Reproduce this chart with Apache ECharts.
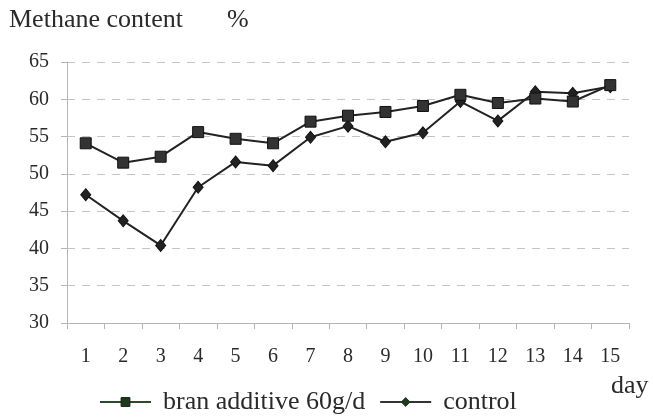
<!DOCTYPE html>
<html>
<head>
<meta charset="utf-8">
<script src="https://cdn.jsdelivr.net/npm/echarts@6/dist/echarts.min.js"></script>
<style>
  html, body { margin: 0; padding: 0; background: #fff; }
  #chart { width: 653px; height: 417px; }
</style>
</head>
<body>
<div id="chart"></div>
<script>
// days on the x axis
const days = ['1', '2', '3', '4', '5', '6', '7', '8', '9', '10', '11', '12', '13', '14', '15'];
// methane content, %
const bran = [54.1, 51.5, 52.3, 55.6, 54.7, 54.1, 57.0, 57.8, 58.3, 59.1, 60.6, 59.5, 60.1, 59.7, 61.9];
const control = [47.2, 43.7, 40.4, 48.2, 51.6, 51.1, 54.9, 56.4, 54.3, 55.5, 59.7, 57.1, 61.0, 60.8, 61.7];
const seriesNames = ['bran additive 60g/d', 'control'];

const serif = '"Liberation Serif", "Times New Roman", serif';
const chart = echarts.init(document.getElementById('chart'), null, { renderer: 'canvas' });

const option = {
  animation: false,
  backgroundColor: '#fff',
  title: [
    { text: 'Methane content', left: 9, top: 7, padding: 0,
      textStyle: { fontFamily: serif, fontSize: 26, fontWeight: 'normal', color: '#2a2a2a' } },
    { text: '%', left: 227, top: 7, padding: 0,
      textStyle: { fontFamily: serif, fontSize: 26, fontWeight: 'normal', color: '#2a2a2a' } },
    { text: 'day', left: 611, top: 373, padding: 0,
      textStyle: { fontFamily: serif, fontSize: 26, fontWeight: 'normal', color: '#2a2a2a' } }
  ],
  grid: { left: 67, right: 24, top: 62, bottom: 94, containLabel: false },
  legend: {
    left: 99, top: 389, padding: 0,
    itemWidth: 51, itemHeight: 11, itemGap: 14,
    textStyle: { fontFamily: serif, fontSize: 26, color: '#2a2a2a', padding: [0, 0, 0, 7] },
    data: [
      { name: seriesNames[0],
        itemStyle: { color: '#1d3a1d', borderColor: '#112211', borderWidth: 1 },
        lineStyle: { color: '#2e4a2e', width: 2 } },
      { name: seriesNames[1],
        itemStyle: { color: '#1d3a1d', borderColor: '#1d3a1d', borderWidth: 1 },
        lineStyle: { color: '#333', width: 2 } }
    ]
  },
  xAxis: {
    type: 'category',
    data: days,
    boundaryGap: true,
    axisLine: { lineStyle: { color: '#b5b5b5', width: 1 } },
    axisTick: { show: true, alignWithLabel: false, length: 6, lineStyle: { color: '#b5b5b5' } },
    axisLabel: { fontFamily: serif, fontSize: 20, color: '#2a2a2a', margin: 24 },
    splitLine: { show: false }
  },
  yAxis: {
    type: 'value',
    min: 30, max: 65, interval: 5,
    axisLine: { show: true, lineStyle: { color: '#b5b5b5', width: 1 } },
    axisTick: { show: true, length: 6, lineStyle: { color: '#b5b5b5' } },
    axisLabel: { fontFamily: serif, fontSize: 20, color: '#2a2a2a', margin: 18 },
    splitLine: { show: true, lineStyle: { color: '#c4c4c4', type: [8, 7], width: 1 } }
  },
  series: [
    {
      name: seriesNames[0],
      type: 'line',
      data: bran,
      symbol: 'rect',
      symbolSize: 11,
      lineStyle: { color: '#222', width: 2 },
      itemStyle: { color: '#333', borderColor: '#111', borderWidth: 1 },
      z: 3
    },
    {
      name: seriesNames[1],
      type: 'line',
      data: control,
      symbol: 'diamond',
      symbolSize: [10, 12],
      lineStyle: { color: '#222', width: 2 },
      itemStyle: { color: '#222', borderColor: '#111', borderWidth: 1 },
      z: 2
    }
  ]
};

chart.setOption(option);
</script>
</body>
</html>
